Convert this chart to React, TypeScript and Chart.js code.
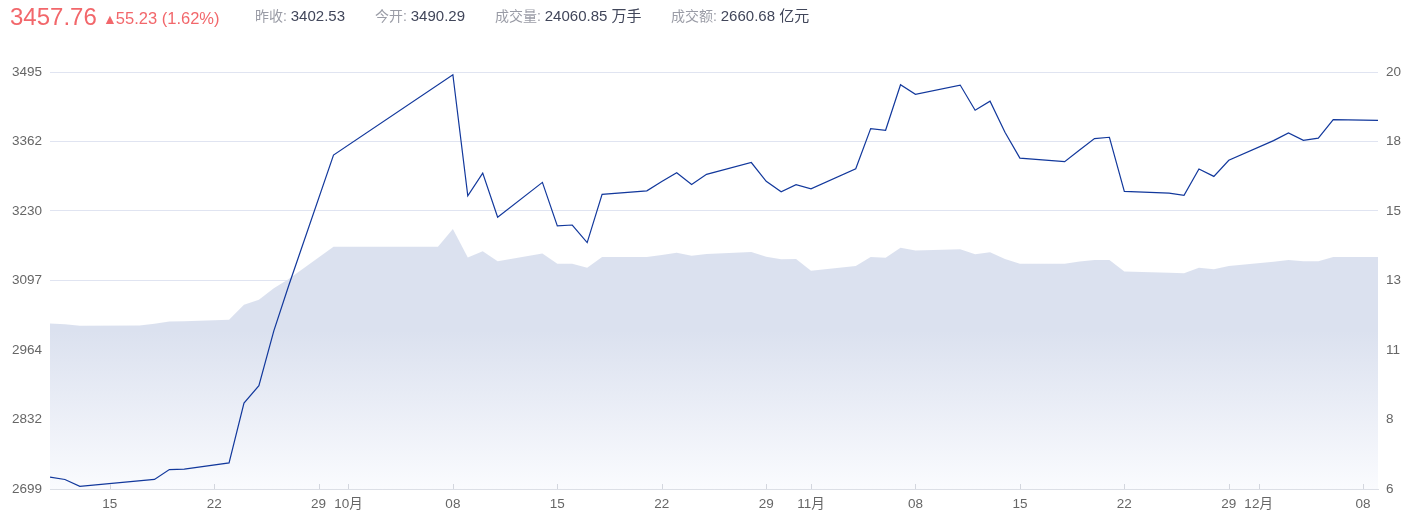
import React, { useEffect, useRef } from 'react';
import { Chart, registerables } from 'chart.js';

Chart.register(...registerables);

// ---- Data ----
const priceDates = [
  '2024-09-11', '2024-09-12', '2024-09-13', '2024-09-18', '2024-09-19', '2024-09-20',
  '2024-09-23', '2024-09-24', '2024-09-25', '2024-09-26', '2024-09-27', '2024-09-30',
  '2024-10-08', '2024-10-09', '2024-10-10', '2024-10-11', '2024-10-14', '2024-10-15',
  '2024-10-16', '2024-10-17', '2024-10-18', '2024-10-21', '2024-10-22', '2024-10-23',
  '2024-10-24', '2024-10-25', '2024-10-28', '2024-10-29', '2024-10-30', '2024-10-31',
  '2024-11-01', '2024-11-04', '2024-11-05', '2024-11-06', '2024-11-07', '2024-11-08',
  '2024-11-11', '2024-11-12', '2024-11-13', '2024-11-14', '2024-11-15', '2024-11-18',
  '2024-11-19', '2024-11-20', '2024-11-21', '2024-11-22', '2024-11-25', '2024-11-26',
  '2024-11-27', '2024-11-28', '2024-11-29', '2024-12-02', '2024-12-03', '2024-12-04',
  '2024-12-05', '2024-12-06', '2024-12-09',
];

const priceValues = [
  2721.80, 2717.12, 2704.09, 2717.28, 2736.02, 2736.81,
  2748.92, 2863.13, 2896.31, 3000.95, 3087.53, 3336.50,
  3489.78, 3258.86, 3301.93, 3217.74, 3284.32, 3201.29,
  3202.95, 3169.38, 3261.56, 3268.11, 3285.87, 3302.80,
  3280.26, 3299.70, 3322.20, 3286.41, 3266.24, 3279.82,
  3272.01, 3310.21, 3386.99, 3383.81, 3470.66, 3452.30,
  3470.07, 3421.97, 3439.28, 3379.84, 3330.73, 3323.85,
  3346.01, 3367.99, 3370.40, 3267.19, 3263.76, 3259.76,
  3309.78, 3295.70, 3326.46, 3363.98, 3378.81, 3364.65,
  3368.86, 3404.08, 3402.53,
];

const volumeDates = [
  '2024-09-11', '2024-09-12', '2024-09-13', '2024-09-17', '2024-09-18', '2024-09-19',
  '2024-09-20', '2024-09-23', '2024-09-24', '2024-09-25', '2024-09-26', '2024-09-27',
  '2024-09-30', '2024-10-07', '2024-10-08', '2024-10-09', '2024-10-10', '2024-10-11',
  '2024-10-14', '2024-10-15', '2024-10-16', '2024-10-17', '2024-10-18', '2024-10-21',
  '2024-10-22', '2024-10-23', '2024-10-24', '2024-10-25', '2024-10-28', '2024-10-29',
  '2024-10-30', '2024-10-31', '2024-11-01', '2024-11-04', '2024-11-05', '2024-11-06',
  '2024-11-07', '2024-11-08', '2024-11-11', '2024-11-12', '2024-11-13', '2024-11-14',
  '2024-11-15', '2024-11-18', '2024-11-19', '2024-11-20', '2024-11-21', '2024-11-22',
  '2024-11-25', '2024-11-26', '2024-11-27', '2024-11-28', '2024-11-29', '2024-12-02',
  '2024-12-03', '2024-12-04', '2024-12-05', '2024-12-06', '2024-12-09',
];

const volumeValues = [
  11.56, 11.53, 11.48, 11.49, 11.55, 11.62,
  11.63, 11.68, 12.19, 12.35, 12.74, 13.05,
  14.13, 14.13, 14.73, 13.77, 13.98, 13.65,
  13.91, 13.56, 13.56, 13.43, 13.79, 13.79,
  13.86, 13.93, 13.83, 13.89, 13.96, 13.80,
  13.71, 13.72, 13.33, 13.49, 13.79, 13.76,
  14.10, 14.01, 14.05, 13.88, 13.95, 13.72,
  13.56, 13.56, 13.64, 13.69, 13.69, 13.30,
  13.26, 13.24, 13.43, 13.38, 13.49, 13.63,
  13.69, 13.65, 13.65, 13.79, 13.79,
];

const xTickDates = [
  '2024-09-15', '2024-09-22', '2024-09-29', '2024-10-01', '2024-10-08', '2024-10-15',
  '2024-10-22', '2024-10-29', '2024-11-01', '2024-11-08', '2024-11-15', '2024-11-22',
  '2024-11-29', '2024-12-01', '2024-12-08',
];
const xTickLabels = ['15', '22', '29', '10月', '08', '15', '22', '29', '11月', '08', '15', '22', '29', '12月', '08'];

const leftTicks = [2699, 2831.67, 2964.33, 3097, 3229.67, 3362.33, 3495];
const rightTicks = [6, 8.33, 10.67, 13, 15.33, 17.67, 20];

const startDate = '2024-09-11';
const endDate = '2024-12-09';

const headerPrice = '3457.76';
const headerChange = '55.23 (1.62%)';
const headerItems = [
  { label: '昨收:', value: '3402.53', unit: '' },
  { label: '今开:', value: '3490.29', unit: '' },
  { label: '成交量:', value: '24060.85', unit: ' 万手' },
  { label: '成交额:', value: '2660.68', unit: ' 亿元' },
];
const headerItemLefts = [255, 375, 495, 671];

// ---- helpers ----
function dayIndex(s: string): number {
  const [y, m, d] = s.split('-').map(Number);
  const [y0, m0, d0] = startDate.split('-').map(Number);
  return (Date.UTC(y, m - 1, d) - Date.UTC(y0, m0 - 1, d0)) / 86400000;
}

const FONT = '"Liberation Sans", Arial, "Noto Sans CJK SC", sans-serif';
const W = 1417;
const H = 517;

const xTickMarks = {
  id: 'xTickMarks',
  afterDraw(chart: any) {
    const xs = chart.scales.x;
    const { ctx, chartArea } = chart;
    ctx.save();
    ctx.strokeStyle = '#d3d6de';
    ctx.lineWidth = 1;
    xs.ticks.forEach((t: any) => {
      const px = Math.round(xs.getPixelForValue(t.value)) + 0.5;
      ctx.beginPath();
      ctx.moveTo(px, chartArea.bottom - 5);
      ctx.lineTo(px, chartArea.bottom);
      ctx.stroke();
    });
    ctx.restore();
  },
};

export default function App() {
  const canvasRef = useRef<HTMLCanvasElement | null>(null);

  useEffect(() => {
    const canvas = canvasRef.current;
    if (!canvas) return;
    const tickFont = { family: FONT, size: 13.5 };

    const chart = new Chart(canvas, {
      type: 'line',
      data: {
        datasets: [
          {
            label: 'price',
            data: priceDates.map((d, i) => ({ x: dayIndex(d), y: priceValues[i] })),
            yAxisID: 'y',
            borderColor: '#12389c',
            borderWidth: 1.2,
            pointRadius: 0,
            fill: false,
            tension: 0,
          },
          {
            label: 'volume',
            data: volumeDates.map((d, i) => ({ x: dayIndex(d), y: volumeValues[i] })),
            yAxisID: 'y1',
            borderColor: 'rgba(0,0,0,0)',
            borderWidth: 0,
            pointRadius: 0,
            fill: 'start',
            tension: 0,
            backgroundColor: (ctx: any) => {
              const c = ctx.chart;
              const ca = c.chartArea;
              if (!ca) return 'rgb(219,225,239)';
              const g = c.ctx.createLinearGradient(0, ca.top + (ca.bottom - ca.top) * 0.62, 0, ca.bottom);
              g.addColorStop(0, 'rgb(219,225,239)');
              g.addColorStop(1, 'rgb(250,251,254)');
              return g;
            },
          },
        ],
      },
      options: {
        animation: false,
        responsive: false,
        maintainAspectRatio: false,
        layout: { padding: { top: 72, left: 0, right: 0, bottom: 0 } },
        plugins: {
          legend: { display: false },
          tooltip: { enabled: false },
        },
        scales: {
          x: {
            type: 'linear',
            min: dayIndex(startDate),
            max: dayIndex(endDate),
            afterBuildTicks: (s: any) => {
              s.ticks = xTickDates.map((d) => ({ value: dayIndex(d) }));
            },
            afterFit: (s: any) => {
              s.height = H - 489;
            },
            ticks: {
              autoSkip: false,
              maxRotation: 0,
              padding: 7,
              color: '#666',
              font: tickFont,
              callback: (_v: any, i: number) => xTickLabels[i],
            },
            grid: { display: false, drawTicks: false },
            border: { display: true, color: '#dcdfe6' },
          },
          y: {
            type: 'linear',
            position: 'left',
            min: leftTicks[0],
            max: leftTicks[leftTicks.length - 1],
            z: 1,
            afterBuildTicks: (s: any) => {
              s.ticks = leftTicks.map((v) => ({ value: v }));
            },
            afterFit: (s: any) => {
              s.width = 50;
            },
            ticks: {
              padding: 8,
              color: '#666',
              font: tickFont,
              callback: (v: any) => String(Math.round(Number(v))),
            },
            grid: { color: 'rgba(168,180,216,0.36)', drawTicks: false, lineWidth: 1 },
            border: { display: false },
          },
          y1: {
            type: 'linear',
            position: 'right',
            min: rightTicks[0],
            max: rightTicks[rightTicks.length - 1],
            afterBuildTicks: (s: any) => {
              s.ticks = rightTicks.map((v) => ({ value: v }));
            },
            afterFit: (s: any) => {
              s.width = W - 1378;
            },
            ticks: {
              padding: 8,
              color: '#666',
              font: tickFont,
              callback: (v: any) => String(Math.round(Number(v))),
            },
            grid: { display: false, drawTicks: false },
            border: { display: false },
          },
        },
      },
      plugins: [xTickMarks],
    } as any);

    return () => {
      chart.destroy();
    };
  }, []);

  const red = '#f2676b';

  return (
    <div
      style={{
        position: 'fixed',
        left: 0,
        top: 0,
        width: W,
        height: H,
        background: '#fff',
        fontFamily: FONT,
        overflow: 'hidden',
      }}
    >
      <canvas
        ref={canvasRef}
        width={W}
        height={H}
        style={{ position: 'absolute', left: 0, top: 0, width: W, height: H }}
      />
      <div
        style={{
          position: 'absolute',
          left: 10,
          top: 5,
          fontSize: 24,
          lineHeight: '24px',
          color: red,
          whiteSpace: 'nowrap',
        }}
      >
        {headerPrice}
      </div>
      <div
        style={{
          position: 'absolute',
          left: 103,
          top: 10,
          fontSize: 16.5,
          lineHeight: '16px',
          color: red,
          whiteSpace: 'nowrap',
        }}
      >
        <span style={{ fontSize: 14, marginRight: -1 }}>▲</span>
        {headerChange}
      </div>
      {headerItems.map((it, i) => (
        <div
          key={i}
          style={{
            position: 'absolute',
            left: headerItemLefts[i],
            top: 8,
            lineHeight: '15px',
            whiteSpace: 'nowrap',
          }}
        >
          <span style={{ fontSize: 14, color: '#9a9ca6' }}>{it.label} </span>
          <span style={{ fontSize: 15, color: '#41465a' }}>
            {it.value}
            {it.unit}
          </span>
        </div>
      ))}
    </div>
  );
}
